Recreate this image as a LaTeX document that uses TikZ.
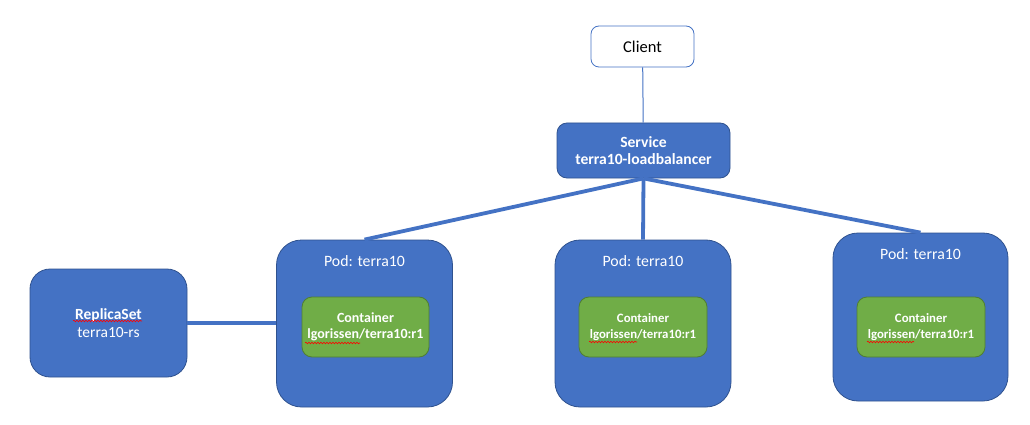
\documentclass[tikz,border=0pt]{standalone}
\usepackage{fontspec}
\setmainfont{Carlito}
\usetikzlibrary{positioning,decorations.pathmorphing}

\definecolor{kblue}{HTML}{4472C4}
\definecolor{kedge}{HTML}{2F528F}
\definecolor{kgreen}{HTML}{70AD47}
\definecolor{kgedge}{HTML}{507E32}

\tikzset{every node/.style={align=center,text=white}}
\tikzset{bluebox/.style={draw=kedge,fill=kblue,line width=0.8pt}}
\tikzset{podbox/.style={bluebox,rounded corners=25pt,minimum width=176pt,minimum height=167pt}}
\tikzset{cbox/.style={draw=kgedge,fill=kgreen,line width=0.8pt,rounded corners=10pt,minimum width=128pt,minimum height=60pt,font=\fontsize{12.8}{15.5}\selectfont\bfseries}}
\tikzset{podtext/.style={inner sep=0pt,font=\fontsize{15.8}{18}\selectfont}}
\tikzset{link/.style={draw=kblue,line width=3.8pt}}
\tikzset{squig/.style={draw=red,line width=0.6pt,decorate,decoration={snake,amplitude=0.8pt,segment length=3pt}}}

\begin{document}
\begin{tikzpicture}[x=1pt,y=-1pt]
            \useasboundingbox[fill=white] (0,0) rectangle (1030,425);

            \node [draw=kblue,fill=white,text=black,line width=0.8pt,rounded corners=8pt,minimum width=103pt,minimum height=41pt,font=\fontsize{16.5}{19}\selectfont] (client) at (642.5,46.5) {Client};
            \node [bluebox,rounded corners=10pt,minimum width=173pt,minimum height=55pt,font=\fontsize{15.6}{17.5}\selectfont\bfseries] (svc) at (643.5,150.5) {Service\\terra10-loadbalancer};

            \node [bluebox,rounded corners=20pt,minimum width=157pt,minimum height=108pt,font=\fontsize{15.5}{18}\selectfont] (rs) at (108.5,323) {\textbf{ReplicaSet}\\terra10-rs};

            % pods
            \node [podbox] (pod1) at (364.5,323.5) {};
            \node [podbox] (pod2) at (643,323.5) {};
            \node [podbox,minimum width=175pt,minimum height=168pt] (pod3) at (920.5,317) {};
            \node [podtext,below=16pt of pod1.north] (pod1lbl) {Pod: terra10};
            \node [podtext,below=16pt of pod2.north] (pod2lbl) {Pod: terra10};
            \node [podtext,below=16pt of pod3.north] (pod3lbl) {Pod: terra10};

            % containers
            \node [cbox,font=\fontsize{14}{16.5}\selectfont\bfseries,minimum width=127pt] (cont1) at (365.5,327) {Container\\lgorissen/terra10:r1};
            \node [cbox] (cont2) at (643,327) {Container\\lgorissen/terra10:r1};
            \node [cbox] (cont3) at (921,327) {Container\\lgorissen/terra10:r1};

            \draw [kblue,line width=1pt] (client) -- (svc);
            \draw [link] (svc.south) -- (pod1.north);
            \draw [link] (svc.south) -- (pod2.north);
            \draw [link] (svc.south) -- (pod3.north);
            \draw [link] (rs.east) -- (rs.east -| pod1.west);

            % spell check marks
            \draw [squig] (73,321) -- (142,321);
            \draw [squig] (305,343) -- (360,343);
            \draw [squig] (589,342) -- (637,342);
            \draw [squig] (867,342) -- (914,342);
        \end{tikzpicture}
\end{document}
